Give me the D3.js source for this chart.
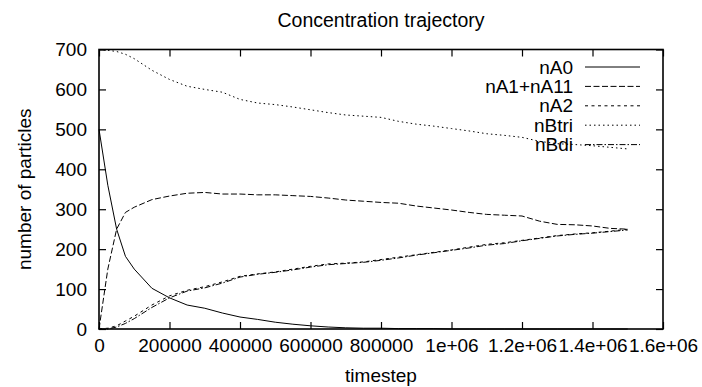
<!DOCTYPE html>
<html>
<head>
<meta charset="utf-8">
<script src="https://cdn.jsdelivr.net/npm/d3@7/dist/d3.min.js"></script>
<style>
  body { margin: 0; background: #fff; }
  svg { display: block; }
  text { font-family: "Liberation Sans", Arial, sans-serif; fill: #000; }
</style>
</head>
<body>
<div id="chart"></div>
<script>
// timesteps (shared by all series)
var timesteps = [0, 25000, 50000, 75000, 100000, 150000, 200000, 250000, 300000, 350000,
  400000, 450000, 500000, 550000, 600000, 650000, 700000, 750000, 800000, 850000,
  900000, 950000, 1000000, 1050000, 1100000, 1150000, 1200000, 1250000, 1300000, 1350000,
  1400000, 1450000, 1500000];

var nA0 = [500, 360, 250, 182, 150, 102, 78, 60, 52, 40,
  30, 24, 17, 12, 8, 5, 3, 2, 2, 1,
  1, 1, 0, 0, 0, 0, 0, 0, 0, 0,
  0, 0, 0];
var nA1nA11 = [0, 150, 250, 292, 305, 324, 333, 340, 342, 338,
  338, 336, 336, 334, 332, 328, 323, 320, 317, 315,
  308, 303, 298, 292, 287, 285, 283, 270, 262, 261,
  258, 252, 250];
var nA2 = [0, 2, 8, 20, 32, 60, 83, 97, 106, 118,
  132, 138, 143, 150, 157, 163, 165, 168, 174, 180,
  186, 192, 198, 205, 212, 216, 222, 228, 234, 238,
  241, 245, 250];
var nBtri = [700, 698, 695, 688, 677, 648, 625, 608, 600, 593,
  575, 566, 562, 556, 549, 542, 536, 533, 530, 520,
  513, 508, 502, 496, 489, 485, 480, 470, 464, 462,
  459, 455, 451];
var nBdi = [0, 0, 5, 14, 26, 54, 78, 95, 103, 115,
  130, 137, 142, 148, 155, 161, 164, 167, 172, 178,
  185, 191, 197, 203, 210, 214, 221, 227, 233, 237,
  240, 244, 248];

var seriesNames = ["nA0", "nA1+nA11", "nA2", "nBtri", "nBdi"];
var seriesValues = [nA0, nA1nA11, nA2, nBtri, nBdi];
var dashes = [null, "6,2.5", "3,3.5", "1.5,3", "6,2,1.5,2"];

var xTicks = [0, 200000, 400000, 600000, 800000, 1000000, 1200000, 1400000, 1600000];
var xTickLabels = ["0", "200000", "400000", "600000", "800000", "1e+06", "1.2e+06", "1.4e+06", "1.6e+06"];
var yTicks = [0, 100, 200, 300, 400, 500, 600, 700];

var width = 702, height = 387;
var margin = { left: 99, right: 39, top: 49.5, bottom: 58 };

var svg = d3.select("#chart").append("svg")
  .attr("width", width)
  .attr("height", height);

var x = d3.scaleLinear().domain([0, 1600000]).range([margin.left, width - margin.right]);
var y = d3.scaleLinear().domain([0, 700]).range([height - margin.bottom, margin.top]);

var fontSize = 19;
var tickLen = 7;

// ticks on all four sides, pointing inward
var xAxisB = d3.axisBottom(x).tickValues(xTicks).tickSizeInner(-tickLen).tickSizeOuter(0)
  .tickPadding(10).tickFormat(function (d, i) { return xTickLabels[i]; });
var xAxisT = d3.axisTop(x).tickValues(xTicks).tickSizeInner(-tickLen).tickSizeOuter(0).tickFormat("");
var yAxisL = d3.axisLeft(y).tickValues(yTicks).tickSizeInner(-tickLen).tickSizeOuter(0)
  .tickPadding(12).tickFormat(d3.format("d"));
var yAxisR = d3.axisRight(y).tickValues(yTicks).tickSizeInner(-tickLen).tickSizeOuter(0).tickFormat("");

function styleAxis(g) {
  g.select(".domain").remove();
  g.selectAll(".tick line").attr("stroke", "#000").attr("stroke-width", 1.2);
  g.selectAll(".tick text").style("font-size", fontSize + "px").attr("fill", "#000");
}

svg.append("g").attr("transform", "translate(0," + y(0) + ")").call(xAxisB).call(styleAxis);
svg.append("g").attr("transform", "translate(0," + y(700) + ")").call(xAxisT).call(styleAxis);
svg.append("g").attr("transform", "translate(" + x(0) + ",0)").call(yAxisL).call(styleAxis);
svg.append("g").attr("transform", "translate(" + x(1600000) + ",0)").call(yAxisR).call(styleAxis);

// the series
var line = d3.line()
  .x(function (d) { return x(d[0]); })
  .y(function (d) { return y(d[1]); });

seriesValues.forEach(function (vals, i) {
  var pts = timesteps.map(function (t, j) { return [t, vals[j]]; });
  svg.append("path")
    .datum(pts)
    .attr("d", line)
    .attr("fill", "none")
    .attr("stroke", "#000")
    .attr("stroke-width", 1)
    .attr("stroke-dasharray", dashes[i]);
});

// frame
svg.append("rect")
  .attr("x", x(0)).attr("y", y(700))
  .attr("width", x(1600000) - x(0)).attr("height", y(0) - y(700))
  .attr("fill", "none").attr("stroke", "#000").attr("stroke-width", 1.6);

// legend (top right, inside)
var legend = svg.append("g");
seriesNames.forEach(function (name, i) {
  var ly = 67 + i * 19.4;
  legend.append("text")
    .attr("x", 573).attr("y", ly)
    .attr("dy", "0.35em")
    .attr("text-anchor", "end")
    .style("font-size", fontSize + "px")
    .text(name);
  legend.append("line")
    .attr("x1", 585).attr("x2", 640)
    .attr("y1", ly).attr("y2", ly)
    .attr("stroke", "#000").attr("stroke-width", 1)
    .attr("stroke-dasharray", dashes[i]);
});

// title and axis labels
svg.append("text")
  .attr("x", (x(0) + x(1600000)) / 2).attr("y", 27)
  .attr("text-anchor", "middle")
  .style("font-size", "19.5px")
  .text("Concentration trajectory");

svg.append("text")
  .attr("x", (x(0) + x(1600000)) / 2).attr("y", 382)
  .attr("text-anchor", "middle")
  .style("font-size", fontSize + "px")
  .text("timestep");

svg.append("text")
  .attr("transform", "translate(31," + ((y(0) + y(700)) / 2) + ") rotate(-90)")
  .attr("text-anchor", "middle")
  .style("font-size", fontSize + "px")
  .text("number of particles");
</script>
</body>
</html>
